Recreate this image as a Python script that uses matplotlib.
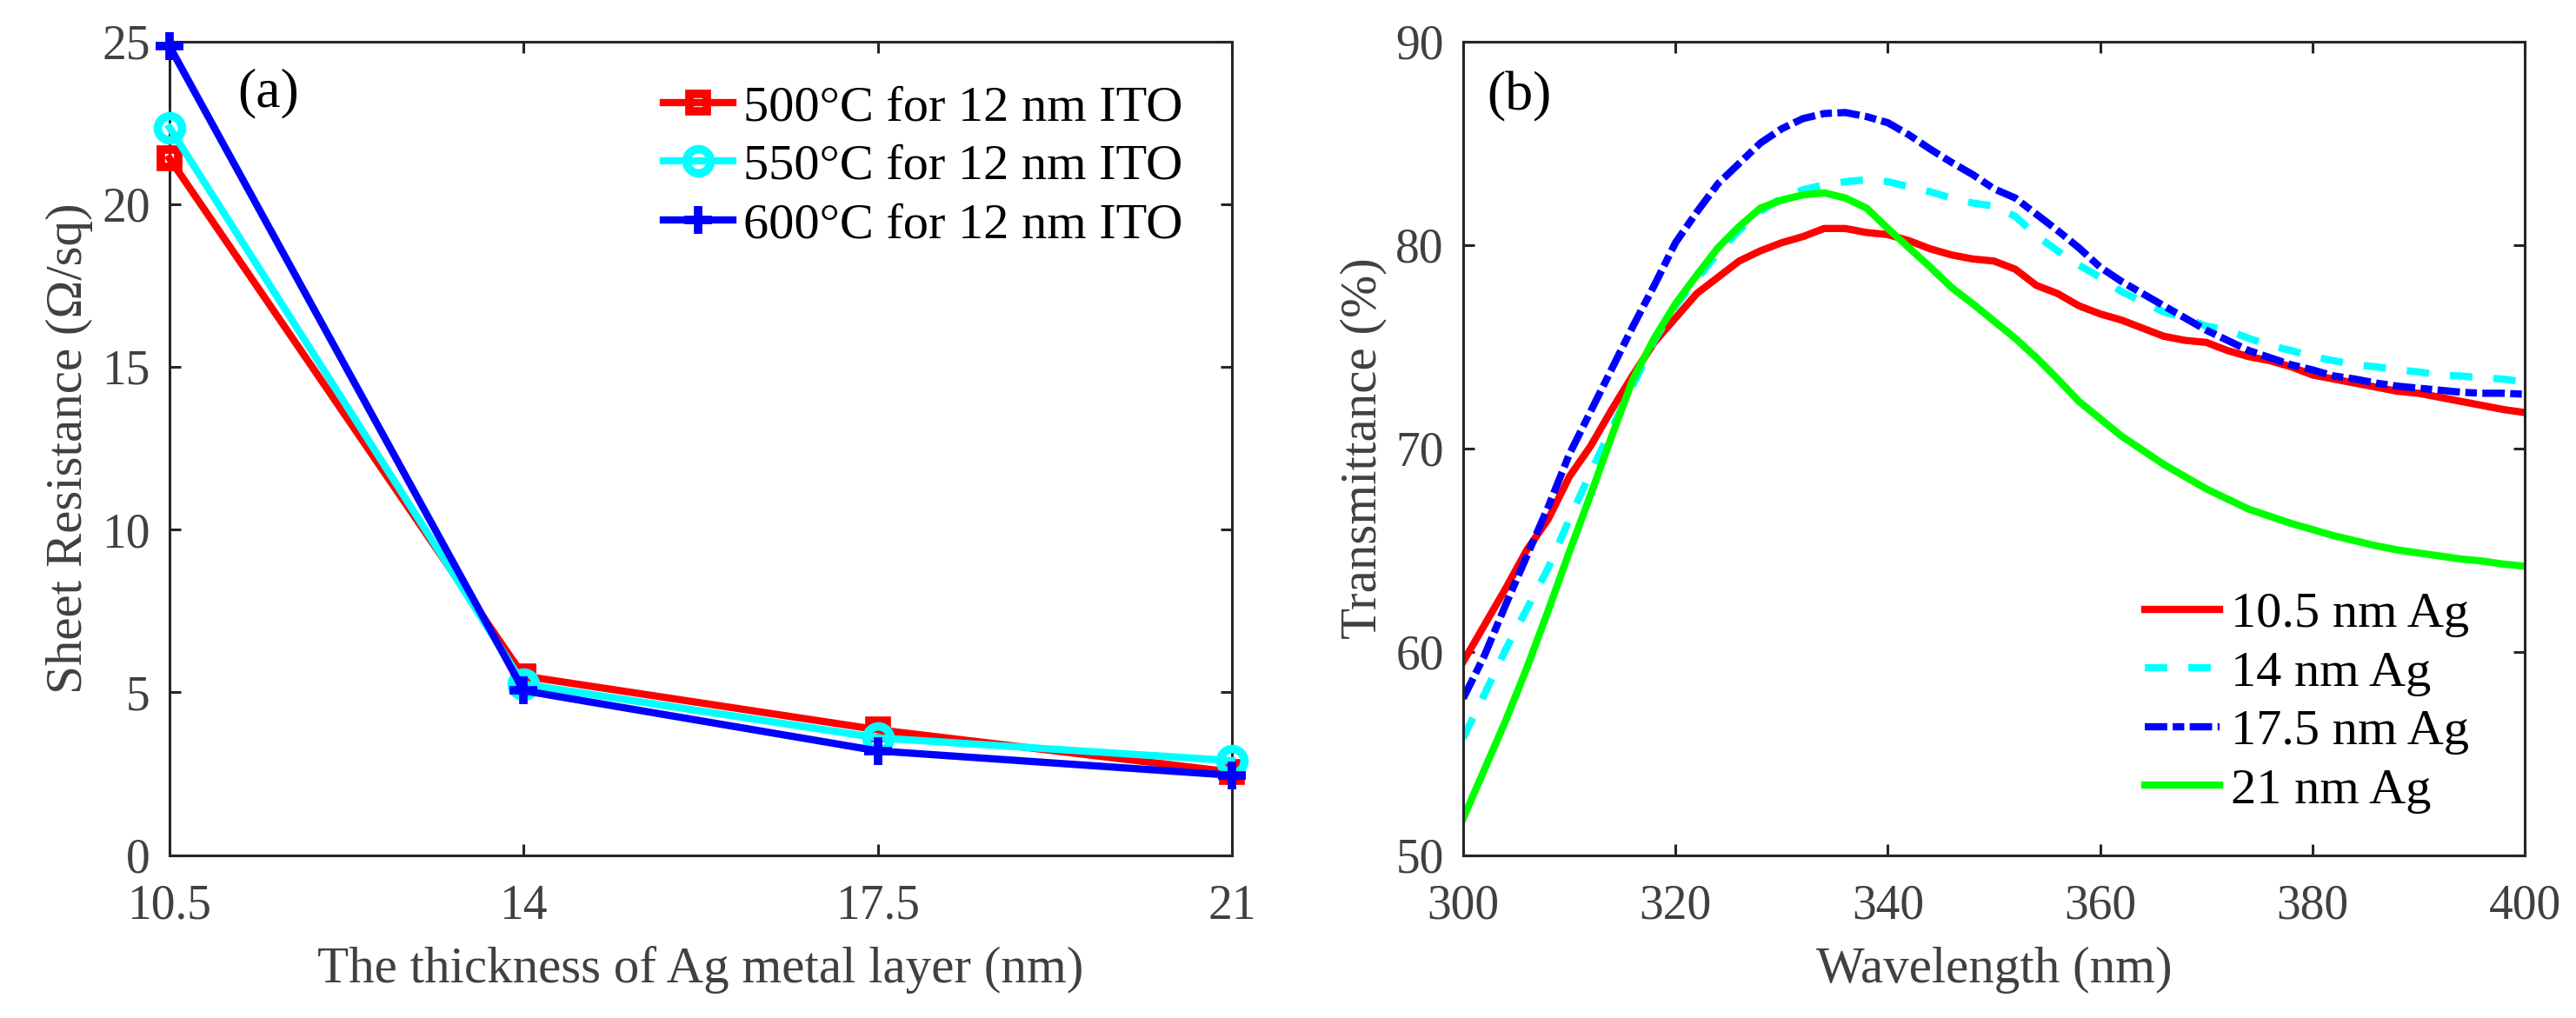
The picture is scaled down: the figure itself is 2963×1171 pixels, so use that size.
import matplotlib
matplotlib.use("Agg")
import matplotlib.pyplot as plt
import numpy as np

plt.rcParams['font.family'] = ['Liberation Serif', 'DejaVu Serif']

# ---------------- Panel (a) data ----------------
thickness = [10.5, 14, 17.5, 21]
xticks_a = [10.5, 14, 17.5, 21]
xticklabels_a = ['10.5', '14', '17.5', '21']
rs_500 = [21.4, 5.5, 3.85, 2.55]
rs_550 = [22.35, 5.25, 3.6, 2.9]
rs_600 = [24.85, 5.05, 3.2, 2.45]
labels_a = ['500°C for 12 nm ITO', '550°C for 12 nm ITO', '600°C for 12 nm ITO']

# ---------------- Panel (b) data ----------------
wavelength = list(range(300, 401, 2))
t_105 = [59.5, 61.3, 63.1, 65.0, 66.5, 68.6, 70.1, 71.9, 73.6, 75.2,
         76.4, 77.6, 78.4, 79.2, 79.7, 80.1, 80.4, 80.8, 80.8, 80.6,
         80.5, 80.2, 79.8, 79.5, 79.3, 79.2, 78.8, 78.0, 77.6, 77.0,
         76.6, 76.3, 75.9, 75.5, 75.3, 75.2, 74.8, 74.5, 74.3, 74.0,
         73.6, 73.4, 73.2, 73.0, 72.8, 72.7, 72.5, 72.3, 72.1, 71.9, 71.75]
t_14 = [55.75, 57.9, 60.1, 62.1, 64.1, 66.5, 68.8, 71.0, 73.1, 75.3,
        77.0, 78.3, 79.6, 80.7, 81.65, 82.3, 82.7, 82.95, 83.1, 83.2,
        83.1, 82.85, 82.6, 82.3, 82.05, 81.9, 81.4, 80.45, 79.7, 79.0,
        78.4, 77.7, 77.2, 76.7, 76.4, 76.0, 75.8, 75.4, 75.05, 74.8,
        74.5, 74.3, 74.1, 74.0, 73.85, 73.75, 73.6, 73.55, 73.45, 73.4, 73.25]
t_175 = [57.7, 59.8, 62.3, 64.7, 67.1, 69.7, 71.8, 73.9, 76.0, 78.0,
         80.1, 81.6, 83.0, 84.0, 85.0, 85.7, 86.2, 86.45, 86.5, 86.3,
         86.0, 85.4, 84.7, 84.05, 83.45, 82.75, 82.3, 81.5, 80.7, 79.85,
         78.9, 78.2, 77.6, 77.0, 76.4, 75.8, 75.3, 74.8, 74.45, 74.1,
         73.85, 73.55, 73.4, 73.2, 73.05, 72.95, 72.85, 72.75, 72.7, 72.7, 72.65]
t_21 = [51.8, 54.2, 56.6, 59.2, 62.0, 64.9, 67.7, 70.6, 73.4, 75.4,
        77.1, 78.5, 79.85, 80.9, 81.8, 82.2, 82.45, 82.55, 82.3, 81.8,
        80.8, 79.85, 78.9, 77.9, 77.1, 76.25, 75.4, 74.45, 73.4, 72.3,
        71.45, 70.6, 69.9, 69.2, 68.6, 68.0, 67.5, 67.0, 66.65, 66.3,
        66.0, 65.7, 65.45, 65.2, 65.0, 64.85, 64.7, 64.55, 64.45, 64.3, 64.2]
labels_b = ['10.5 nm Ag', '14 nm Ag', '17.5 nm Ag', '21 nm Ag']
xticks_b = [300, 320, 340, 360, 380, 400]
yticks_b = [50, 60, 70, 80, 90]
yticks_a = [0, 5, 10, 15, 20, 25]

AX_C = '#262626'
TXT_C = '#404040'
TICK_FS = 40
LABEL_FS = 42.5
LEG_FS = 42
PANEL_FS = 46
LW = 6

fig = plt.figure(figsize=(29.63, 11.71), dpi=100)
ax1 = fig.add_axes([0.0658, 0.1601, 0.4124, 0.7993])
ax2 = fig.add_axes([0.5680, 0.1601, 0.4121, 0.7993])


def style(ax):
    for s in ax.spines.values():
        s.set_linewidth(2.2)
        s.set_color(AX_C)
    ax.tick_params(direction='in', length=9.5, width=2.2, top=True, right=True,
                   labelsize=TICK_FS, labelcolor=TXT_C, color=AX_C)
    ax.tick_params(axis='x', pad=24)
    ax.tick_params(axis='y', pad=16)


# ---------------- Panel (a) ----------------
ax1.plot(thickness, rs_500, color='#ff0000', lw=LW, marker='s', ms=14.5, mew=7,
         mfc='none', clip_on=False, label=labels_a[0], zorder=3)
ax1.plot(thickness, rs_550, color='#00ffff', lw=LW, marker='o', ms=20, mew=7,
         mfc='none', clip_on=False, label=labels_a[1], zorder=4)
ax1.plot(thickness, rs_600, color='#0000ff', lw=LW, marker='+', ms=23, mew=7,
         clip_on=False, label=labels_a[2], zorder=5)
ax1.set_xlim(10.5, 21)
ax1.set_ylim(0, 25)
ax1.set_xticks(xticks_a)
ax1.set_xticklabels(xticklabels_a)
ax1.set_yticks(yticks_a)
style(ax1)
ax1.set_xlabel('The thickness of Ag metal layer (nm)', fontsize=LABEL_FS,
               color=TXT_C, va='baseline')
ax1.xaxis.set_label_coords(0.5, -0.157)
ax1.set_ylabel('Sheet Resistance (Ω/sq)', fontsize=LABEL_FS, color=TXT_C,
               va='baseline')
ax1.yaxis.set_label_coords(-0.0827, 0.5)
ax1.text(0.064, 0.936, '(a)', transform=ax1.transAxes, fontsize=PANEL_FS,
         color='black', ha='left', va='center')
leg1 = ax1.legend(loc='upper left', bbox_to_anchor=(0.4648, 0.9466),
                  frameon=False, fontsize=LEG_FS, handlelength=1.37,
                  handletextpad=0.2, labelspacing=0.25, borderpad=0,
                  borderaxespad=0)

# ---------------- Panel (b) ----------------
ax2.plot(wavelength, t_105, color='#ff0000', lw=LW, ls='-', label=labels_b[0])
ax2.plot(wavelength, t_14, color='#00ffff', lw=LW, ls=(0, (3.1, 2.9)),
         label=labels_b[1])
ax2.plot(wavelength, t_175, color='#0000ff', lw=LW, ls=(0, (3.1, 0.75, 1.6, 0.75)),
         label=labels_b[2])
ax2.plot(wavelength, t_21, color='#00ff00', lw=LW, ls='-', label=labels_b[3])
ax2.set_xlim(300, 400)
ax2.set_ylim(50, 90)
ax2.set_xticks(xticks_b)
ax2.set_yticks(yticks_b)
style(ax2)
ax2.set_xlabel('Wavelength (nm)', fontsize=LABEL_FS, color=TXT_C, va='baseline')
ax2.xaxis.set_label_coords(0.5, -0.157)
ax2.set_ylabel('Transmittance (%)', fontsize=LABEL_FS, color=TXT_C, va='baseline')
ax2.yaxis.set_label_coords(-0.0827, 0.5)
ax2.text(0.022, 0.9316, '(b)', transform=ax2.transAxes, fontsize=PANEL_FS,
         color='black', ha='left', va='center')
leg2 = ax2.legend(loc='upper left', bbox_to_anchor=(0.6424, 0.3237),
                  frameon=False, fontsize=LEG_FS, handlelength=1.47,
                  handletextpad=0.22, labelspacing=0.25, borderpad=0,
                  borderaxespad=0)

fig.savefig('out.png', dpi=100)
